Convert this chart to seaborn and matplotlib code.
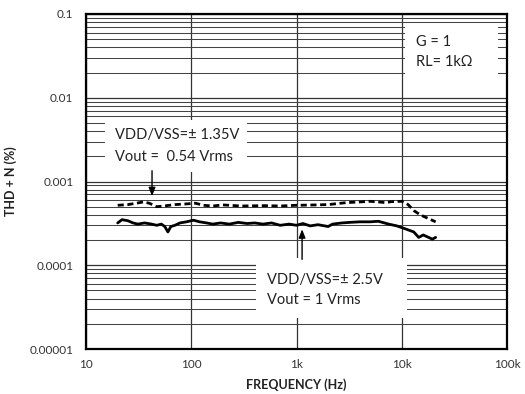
import numpy as np
import pandas as pd
import matplotlib
matplotlib.use("Agg")
import matplotlib.pyplot as plt
from matplotlib.patches import Rectangle
from matplotlib.ticker import FixedLocator, NullFormatter
import seaborn as sns

# THD+N vs frequency, VDD/VSS = ±2.5 V, Vout = 1 Vrms
freq_25 = [20, 22, 25, 28, 31, 36, 42, 47, 52, 56, 60, 64, 70, 78, 90, 105, 120,
           140, 160, 190, 230, 280, 340, 400, 480, 580, 700, 850, 1000, 1150, 1350,
           1600, 2000, 2200, 2700, 3200, 4000, 5000, 6000, 7500, 9000, 11000,
           13000, 14500, 16000, 18000, 19500, 21000]
thd_25 = [3.2e-4, 3.5e-4, 3.4e-4, 3.2e-4, 3.1e-4, 3.2e-4, 3.1e-4, 3.0e-4, 3.1e-4,
          2.9e-4, 2.5e-4, 2.9e-4, 3.0e-4, 3.2e-4, 3.3e-4, 3.45e-4, 3.3e-4, 3.2e-4,
          3.1e-4, 3.2e-4, 3.1e-4, 3.25e-4, 3.15e-4, 3.2e-4, 3.1e-4, 3.2e-4, 3.0e-4,
          3.1e-4, 3.0e-4, 3.15e-4, 2.95e-4, 3.05e-4, 2.9e-4, 3.1e-4, 3.2e-4,
          3.25e-4, 3.3e-4, 3.3e-4, 3.35e-4, 3.1e-4, 2.95e-4, 2.7e-4, 2.5e-4,
          2.15e-4, 2.3e-4, 2.15e-4, 2.05e-4, 2.15e-4]

# THD+N vs frequency, VDD/VSS = ±1.35 V, Vout = 0.54 Vrms
freq_135 = [20, 25, 30, 35, 40, 47, 55, 70, 90, 110, 130, 160, 200, 300, 500, 700,
            1000, 1500, 2000, 3000, 4000, 5000, 6000, 7000, 8000, 10000, 11500,
            13000, 15000, 18000, 21000]
thd_135 = [5.2e-4, 5.3e-4, 5.5e-4, 5.7e-4, 5.5e-4, 5.0e-4, 5.1e-4, 5.3e-4, 5.4e-4,
           5.5e-4, 5.2e-4, 5.1e-4, 5.25e-4, 5.1e-4, 5.15e-4, 5.1e-4, 5.2e-4,
           5.25e-4, 5.3e-4, 5.6e-4, 5.7e-4, 5.8e-4, 5.7e-4, 5.6e-4, 5.75e-4,
           5.8e-4, 5.3e-4, 4.5e-4, 4.0e-4, 3.6e-4, 3.3e-4]

x_ticks = [10, 100, 1000, 10000, 100000]
x_tick_labels = ["10", "100", "1k", "10k", "100k"]
y_ticks = [1e-5, 1e-4, 1e-3, 1e-2, 1e-1]
y_tick_labels = ["0.00001", "0.0001", "0.001", "0.01", "0.1"]

sns.set_style("white")
plt.rcParams["font.family"] = ["Lato", "DejaVu Sans"]

fig = plt.figure(figsize=(5.25, 3.94), dpi=100)
ax = fig.add_axes([86 / 525, 1 - 349 / 394, 421 / 525, 335 / 394])

df25 = pd.DataFrame({"f": freq_25, "thd": thd_25})
df135 = pd.DataFrame({"f": freq_135, "thd": thd_135})
sns.lineplot(data=df25, x="f", y="thd", ax=ax, color="black", lw=2.0, zorder=4)
sns.lineplot(data=df135, x="f", y="thd", ax=ax, color="black", lw=2.0,
             linestyle=(0, (2.2, 1.3)), zorder=4)

ax.set_xscale("log")
ax.set_yscale("log")
ax.set_xlim(10, 100000)
ax.set_ylim(1e-5, 1e-1)

ax.xaxis.set_major_locator(FixedLocator(x_ticks))
ax.set_xticklabels(x_tick_labels)
ax.xaxis.set_minor_locator(FixedLocator([]))
ax.yaxis.set_major_locator(FixedLocator(y_ticks))
ax.set_yticklabels(y_tick_labels)
minor_y = [m * 10.0 ** e for e in range(-5, -1) for m in range(2, 10)]
ax.yaxis.set_minor_locator(FixedLocator(minor_y))
ax.yaxis.set_minor_formatter(NullFormatter())

ax.grid(True, which="major", axis="both", color="#333333", lw=0.9, zorder=0)
ax.grid(True, which="minor", axis="y", color="#444444", lw=0.75, zorder=0)
ax.set_axisbelow(True)

ax.tick_params(axis="both", which="both", length=0)
ax.tick_params(axis="y", pad=9, labelsize=8.5, labelcolor="#333333")
ax.tick_params(axis="x", pad=7, labelsize=8.5, labelcolor="#333333")
for sp in ax.spines.values():
    sp.set_visible(True)
    sp.set_color("black")
    sp.set_linewidth(1.6)
    sp.set_zorder(6)

ax.set_xlabel("FREQUENCY (Hz)", fontsize=9, fontweight="bold", labelpad=6,
              color="#222222")
ax.set_ylabel("THD + N (%)", fontsize=9, fontweight="bold", labelpad=9,
              color="#222222")

# white label panels over the grid
for (x0, x1, y0, y1) in [(0.045, 0.383, 0.528, 0.684),
                         (0.404, 0.762, 0.093, 0.272),
                         (0.757, 0.979, 0.809, 0.967)]:
    ax.add_patch(Rectangle((x0, y0), x1 - x0, y1 - y0, transform=ax.transAxes,
                           facecolor="white", edgecolor="none", zorder=2))

txt = dict(transform=ax.transAxes, fontsize=10.5, color="#222222", zorder=5,
           va="center", ha="left")
ax.text(0.069, 0.639, "VDD/VSS=\u00b1 1.35V", **txt)
ax.text(0.069, 0.573, "Vout =  0.54 Vrms", **txt)
ax.text(0.430, 0.206, "VDD/VSS=\u00b1 2.5V", **txt)
ax.text(0.430, 0.146, "Vout = 1 Vrms", **txt)
ax.text(0.783, 0.916, "G = 1", **txt)
ax.text(0.783, 0.857, "RL= 1k\u03a9", **txt)

arrow = dict(arrowstyle="-|>,head_length=0.5,head_width=0.2", color="black", lw=1.0)
ax.annotate("", xy=(42.4, 6.2e-4), xytext=(42.4, 1.45e-3), arrowprops=arrow, zorder=5)
ax.annotate("", xy=(1130, 2.9e-4), xytext=(1130, 1.09e-4), arrowprops=arrow, zorder=5)

fig.savefig("out.png", dpi=100)
